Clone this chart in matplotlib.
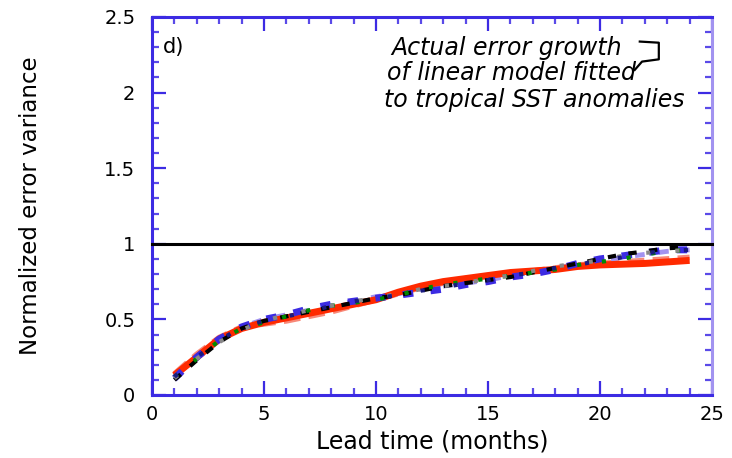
import matplotlib
matplotlib.use("Agg")
import matplotlib.pyplot as plt
from matplotlib.ticker import MultipleLocator
from matplotlib.lines import Line2D

lead = [1, 2, 3, 4, 5, 6, 7, 8, 9, 10, 11, 12, 13, 14, 15, 16, 17, 18, 19, 20, 21, 22, 23, 24]
red = [0.13, 0.25, 0.37, 0.44, 0.48, 0.51, 0.54, 0.57, 0.60, 0.63, 0.68, 0.72, 0.75, 0.77, 0.79, 0.81, 0.82, 0.83, 0.85, 0.86, 0.865, 0.87, 0.88, 0.89]
salmon = [0.14, 0.27, 0.38, 0.45, 0.47, 0.49, 0.52, 0.55, 0.59, 0.63, 0.67, 0.71, 0.74, 0.77, 0.79, 0.80, 0.82, 0.84, 0.86, 0.87, 0.88, 0.89, 0.90, 0.91]
blue = [0.11, 0.25, 0.37, 0.45, 0.50, 0.53, 0.57, 0.60, 0.62, 0.64, 0.66, 0.68, 0.70, 0.73, 0.75, 0.78, 0.80, 0.83, 0.87, 0.90, 0.92, 0.94, 0.96, 0.96]
black = [0.10, 0.23, 0.35, 0.44, 0.49, 0.52, 0.55, 0.58, 0.61, 0.64, 0.66, 0.69, 0.72, 0.74, 0.76, 0.78, 0.81, 0.84, 0.87, 0.90, 0.93, 0.95, 0.97, 0.98]
green = [0.12, 0.24, 0.36, 0.44, 0.48, 0.52, 0.56, 0.59, 0.61, 0.63, 0.66, 0.70, 0.73, 0.75, 0.77, 0.79, 0.81, 0.83, 0.86, 0.88, 0.90, 0.93, 0.95, 0.96]
gray = [0.11, 0.24, 0.35, 0.43, 0.49, 0.53, 0.56, 0.59, 0.62, 0.64, 0.67, 0.70, 0.72, 0.74, 0.77, 0.79, 0.82, 0.85, 0.87, 0.89, 0.92, 0.94, 0.95, 0.96]
navy = [0.12, 0.25, 0.36, 0.45, 0.49, 0.52, 0.55, 0.59, 0.62, 0.64, 0.66, 0.69, 0.71, 0.74, 0.76, 0.79, 0.81, 0.84, 0.86, 0.89, 0.91, 0.94, 0.95, 0.96]
lavender = [0.10, 0.24, 0.36, 0.45, 0.50, 0.53, 0.56, 0.59, 0.62, 0.65, 0.67, 0.70, 0.72, 0.74, 0.76, 0.79, 0.81, 0.84, 0.86, 0.89, 0.91, 0.93, 0.95, 0.96]

xticks = [0, 5, 10, 15, 20, 25]
yticks = [0, 0.5, 1, 1.5, 2, 2.5]
ytick_labels = ["0", "0.5", "1", "1.5", "2", "2.5"]

BLUE = "#3c2be3"
LAV = "#a293f0"

fig = plt.figure(figsize=(7.32, 4.58), dpi=100)
ax = fig.add_axes([0.2077, 0.1376, 0.765, 0.8253])

ax.plot(lead, salmon, color="#f88878", lw=4, dashes=(3, 1.5), zorder=2)
ax.plot(lead, red, color="#ff2a00", lw=5, solid_capstyle="butt", zorder=3)
ax.plot(lead, lavender, color=LAV, lw=3.5, dashes=(2, 3), zorder=2)
ax.plot(lead, blue, color=BLUE, lw=5, dashes=(1.5, 2.5), zorder=4)
ax.plot(lead, black, color="black", lw=3, dashes=(2, 3), zorder=4)
ax.plot(lead, green, color="#008a00", lw=3, dashes=(1, 5), zorder=4)
ax.plot(lead, gray, color="#888888", lw=3, dashes=(1, 6), zorder=4)
ax.plot(lead, navy, color="#1a1a80", lw=3, dashes=(1, 7), zorder=4)

ax.axhline(1, color="black", lw=2.2, zorder=5, clip_on=False)

ax.set_xlim(0, 25)
ax.set_ylim(0, 2.5)
ax.set_xticks(xticks)
ax.set_yticks(yticks)
ax.set_yticklabels(ytick_labels)
ax.xaxis.set_minor_locator(MultipleLocator(1))
ax.yaxis.set_minor_locator(MultipleLocator(0.1))
ax.tick_params(which="both", direction="in", top=True, right=True, color=BLUE, width=1.6)
ax.tick_params(which="major", length=10, labelsize=14)
ax.tick_params(axis="y", which="major", pad=12)
ax.tick_params(axis="x", which="major", pad=7)
ax.tick_params(which="minor", length=5, color="#5a4ae8")

for s in ["left", "bottom", "top"]:
    ax.spines[s].set_color(BLUE)
    ax.spines[s].set_linewidth(2.2)
ax.spines["right"].set_color(LAV)
ax.spines["right"].set_linewidth(2.2)

ax.set_xlabel("Lead time (months)", fontsize=17, labelpad=4)
ax.set_ylabel("Normalized error variance", fontsize=16.5)
ax.yaxis.set_label_coords(-0.196, 0.5)

ax.text(0.02, 0.92, "d)", transform=ax.transAxes, fontsize=15, va="center", ha="left")
ax.text(0.427, 0.918, "Actual error growth", transform=ax.transAxes, fontsize=17,
        style="italic", va="center", ha="left")
ax.text(0.419, 0.852, "of linear model fitted", transform=ax.transAxes, fontsize=17,
        style="italic", va="center", ha="left")
ax.text(0.414, 0.78, "to tropical SST anomalies", transform=ax.transAxes, fontsize=17,
        style="italic", va="center", ha="left")
ax.add_line(Line2D([0.871, 0.905, 0.905, 0.875, 0.862], [0.935, 0.932, 0.888, 0.882, 0.86],
                   transform=ax.transAxes, color="black", lw=1.6))

fig.savefig("out.png", dpi=100)
